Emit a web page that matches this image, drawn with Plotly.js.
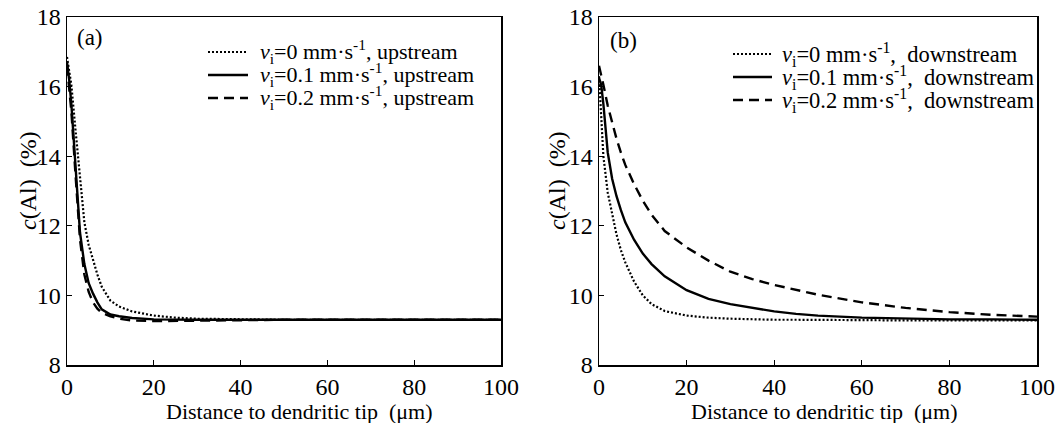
<!DOCTYPE html>
<html>
<head>
<meta charset="utf-8">
<script src="https://cdn.plot.ly/plotly-3.0.1.min.js"></script>
<style>html,body{margin:0;padding:0;background:#fff;}#chart{width:1057px;height:423px;}</style>
</head>
<body>
<div id="chart"></div>
<script>
// ---- data ----
var xA = [0,0.5,1,2,3,4,5,6,7,8,10,12,15,20,25,30,40,50,60,70,80,90,100];
var upV0  = [16.85,16.5,16.05,14.7,13.4,12.1,11.45,11.0,10.6,10.25,9.85,9.68,9.54,9.42,9.36,9.33,9.31,9.3,9.3,9.3,9.3,9.3,9.3];
var upV01 = [16.7,16.2,15.5,13.6,11.8,10.9,10.35,10.05,9.8,9.6,9.45,9.4,9.35,9.31,9.3,9.3,9.3,9.3,9.3,9.3,9.3,9.3,9.3];
var upV02 = [16.6,16.0,15.3,13.4,11.6,10.6,10.1,9.8,9.62,9.5,9.4,9.33,9.28,9.26,9.27,9.28,9.29,9.3,9.3,9.3,9.3,9.3,9.3];

var xB = [0,0.5,1,2,3,4,5,6,8,10,12,15,20,25,30,35,40,45,50,60,70,80,90,100];
var downV0  = [16.3,15.2,14.0,12.95,12.3,11.75,11.3,10.95,10.4,10.0,9.75,9.55,9.42,9.36,9.33,9.31,9.3,9.3,9.29,9.29,9.28,9.28,9.28,9.28];
var downV01 = [16.25,16.05,15.5,14.1,13.35,12.85,12.45,12.1,11.6,11.2,10.9,10.55,10.15,9.9,9.75,9.64,9.54,9.47,9.42,9.36,9.33,9.31,9.31,9.3];
var downV02 = [16.6,16.35,16.05,15.45,14.95,14.5,14.1,13.75,13.2,12.72,12.32,11.85,11.38,11.0,10.68,10.47,10.3,10.15,10.02,9.8,9.64,9.52,9.44,9.39];

var xTicks = [0,20,40,60,80,100];
var yTicks = [8,10,12,14,16,18];
var legA = ['<i>v</i><sub>i</sub>=0 mm·s<sup>-1</sup>, upstream',
            '<i>v</i><sub>i</sub>=0.1 mm·s<sup>-1</sup>, upstream',
            '<i>v</i><sub>i</sub>=0.2 mm·s<sup>-1</sup>, upstream'];
var legB = ['<i>v</i><sub>i</sub>=0 mm·s<sup>-1</sup>,\u00a0 downstream',
            '<i>v</i><sub>i</sub>=0.1 mm·s<sup>-1</sup>,\u00a0 downstream',
            '<i>v</i><sub>i</sub>=0.2 mm·s<sup>-1</sup>,\u00a0 downstream'];
var panelLabels = ['(a)','(b)'];
var xTitle = 'Distance to dendritic tip\u00a0 (μm)';
var yTitle = '<i>c</i>(Al)\u00a0 (%)';

// ---- styles ----
var FONT = 'Liberation Serif';
var W = 1057, T = 17, B = 365;
function px(x){ return x / W; }
function py(y){ return (B - y) / (B - T); }
var styles = [
  {dash:'2px,2px', width:2.2},
  {dash:'solid', width:2.4},
  {dash:'10px,6px', width:2.4}
];

function tr(x, y, s, xa, ya, name){
  return {x:x, y:y, type:'scatter', mode:'lines', name:name, xaxis:xa, yaxis:ya,
    showlegend:false, line:{color:'#000', width:s.width, dash:s.dash}, hoverinfo:'skip'};
}
var data = [
  tr(xA, upV0, styles[0], 'x', 'y', legA[0]),
  tr(xA, upV01, styles[1], 'x', 'y', legA[1]),
  tr(xA, upV02, styles[2], 'x', 'y', legA[2]),
  tr(xB, downV0, styles[0], 'x2', 'y2', legB[0]),
  tr(xB, downV01, styles[1], 'x2', 'y2', legB[1]),
  tr(xB, downV02, styles[2], 'x2', 'y2', legB[2])
];

function xax(dom, anchor){
  return {domain:dom, anchor:anchor, range:[0,100], tickvals:xTicks, ticktext:xTicks.map(String),
    ticks:'inside', ticklen:5, tickwidth:1.3, tickcolor:'#000',
    showline:true, mirror:true, linewidth:1.5, linecolor:'#000',
    showgrid:false, zeroline:false, fixedrange:true,
    tickfont:{family:FONT, size:24, color:'#000'}};
}
function yax(anchor){
  return {domain:[0,1], anchor:anchor, range:[8,18], tickvals:yTicks, ticktext:yTicks.map(String),
    ticks:'inside', ticklen:5, tickwidth:1.3, tickcolor:'#000',
    showline:true, mirror:true, linewidth:1.5, linecolor:'#000',
    showgrid:false, zeroline:false, fixedrange:true,
    tickfont:{family:FONT, size:24, color:'#000'}};
}

var shapes = [], annotations = [];
var legPos = [
  {x0:208, x1:248, tx:258, rows:[52,75,98], texts:legA, size:22},
  {x0:733, x1:772, tx:780, rows:[54,77,100], texts:legB, size:22.5}
];
legPos.forEach(function(L){
  L.rows.forEach(function(r, i){
    shapes.push({type:'line', xref:'paper', yref:'paper', x0:px(L.x0), x1:px(L.x1), y0:py(r), y1:py(r),
      line:{color:'#000', width:styles[i].width, dash:styles[i].dash}});
    annotations.push({xref:'paper', yref:'paper', x:px(L.tx), y:py(r), xanchor:'left', yanchor:'middle',
      text:L.texts[i], showarrow:false, font:{family:FONT, size:L.size, color:'#000'}});
  });
});
annotations.push({xref:'paper', yref:'paper', x:px(75), y:py(38), xanchor:'left', yanchor:'middle',
  text:panelLabels[0], showarrow:false, font:{family:FONT, size:23, color:'#000'}});
annotations.push({xref:'paper', yref:'paper', x:px(608), y:py(40), xanchor:'left', yanchor:'middle',
  text:panelLabels[1], showarrow:false, font:{family:FONT, size:23, color:'#000'}});
// axis titles
[299, 824].forEach(function(cx){
  annotations.push({xref:'paper', yref:'paper', x:px(cx), y:py(411), xanchor:'center', yanchor:'middle',
    text:xTitle, showarrow:false, font:{family:FONT, size:22, color:'#000'}});
});
[28, 557].forEach(function(cx){
  annotations.push({xref:'paper', yref:'paper', x:px(cx), y:py(181), xanchor:'center', yanchor:'middle',
    text:yTitle, textangle:-90, showarrow:false, font:{family:FONT, size:24, color:'#000'}});
});

var layout = {
  width:1057, height:423,
  margin:{l:0, r:0, t:17, b:58, pad:0},
  paper_bgcolor:'#fff', plot_bgcolor:'#fff',
  showlegend:false,
  xaxis: xax([67/W, 501/W], 'y'),
  yaxis: yax('x'),
  xaxis2: xax([599/W, 1037/W], 'y2'),
  yaxis2: yax('x2'),
  shapes: shapes,
  annotations: annotations
};
Plotly.newPlot('chart', data, layout, {displayModeBar:false, staticPlot:true});
</script>
</body>
</html>
